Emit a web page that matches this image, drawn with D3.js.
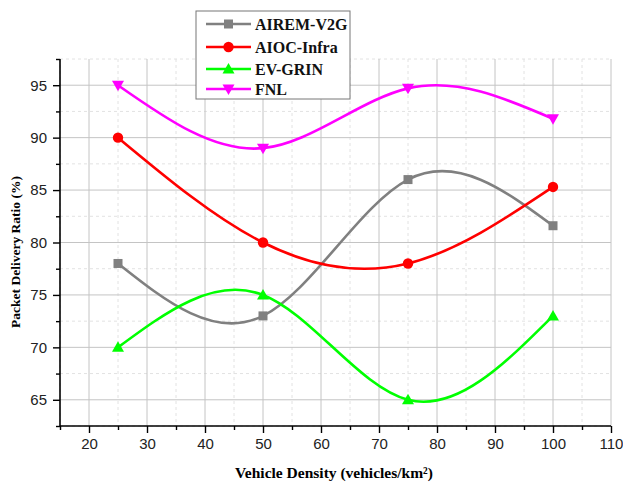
<!DOCTYPE html>
<html><head><meta charset="utf-8">
<script src="https://cdn.jsdelivr.net/npm/d3@7"></script>
<style>body{margin:0;background:#fff}</style>
</head><body>
<svg id="c" width="623" height="482"></svg>
<script>
const xValues = [25, 50, 75, 100];
const seriesNames = ["AIREM-V2G", "AIOC-Infra", "EV-GRIN", "FNL"];
const airemV2G = [78, 73, 86, 81.6];
const aiocInfra = [90, 80, 78, 85.3];
const evGrin = [70, 75, 65, 73];
const fnl = [95, 89, 94.7, 91.8];
const seriesColors = ["#808080", "#ff0000", "#00ff00", "#ff00ff"];
const seriesMarkers = ["square", "circle", "triangle", "triangleDown"];
const xTickValues = [20, 30, 40, 50, 60, 70, 80, 90, 100, 110];
const yTickValues = [65, 70, 75, 80, 85, 90, 95];

const seriesValues = [airemV2G, aiocInfra, evGrin, fnl];
const svg = d3.select("#c");
const L = 60, R = 611, T = 59, B = 426;
const x = d3.scaleLinear().domain([15, 110]).range([L, R]);
const y = d3.scaleLinear().domain([62.5, 97.5]).range([B, T]);

// grid
const xMinor = d3.range(15, 111, 5).filter(v => v % 10 !== 0);
const yMinor = d3.range(62.5, 97.6, 2.5).filter(v => v % 5 !== 0);
const g = svg.append("g");
g.selectAll(".xm").data(xMinor).join("line")
  .attr("x1", d => x(d)).attr("x2", d => x(d)).attr("y1", T).attr("y2", B)
  .attr("stroke", "#e2e2e2").attr("stroke-dasharray", "3,3");
g.selectAll(".ym").data(yMinor).join("line")
  .attr("y1", d => y(d)).attr("y2", d => y(d)).attr("x1", L).attr("x2", R)
  .attr("stroke", "#e2e2e2").attr("stroke-dasharray", "3,3");
g.selectAll(".xM").data(xTickValues).join("line")
  .attr("x1", d => x(d)).attr("x2", d => x(d)).attr("y1", T).attr("y2", B)
  .attr("stroke", "#c4c4c4");
g.selectAll(".yM").data(yTickValues).join("line")
  .attr("y1", d => y(d)).attr("y2", d => y(d)).attr("x1", L).attr("x2", R)
  .attr("stroke", "#c4c4c4");

// axes
const xAxis = svg.append("g").attr("transform", `translate(0,${B})`)
  .call(d3.axisBottom(x).tickValues(xTickValues).tickSize(7).tickPadding(5).tickFormat(d3.format("d")));
svg.append("g").attr("transform", `translate(0,${B})`)
  .call(d3.axisBottom(x).tickValues(xMinor).tickSize(4).tickFormat(""))
  .call(s => s.select(".domain").remove());
const yAxis = svg.append("g").attr("transform", `translate(${L},0)`)
  .call(d3.axisLeft(y).tickValues(yTickValues).tickSize(7).tickPadding(6).tickFormat(d3.format("d")));
svg.append("g").attr("transform", `translate(${L},0)`)
  .call(d3.axisLeft(y).tickValues(yMinor).tickSize(4).tickFormat(""))
  .call(s => s.select(".domain").remove());
svg.selectAll(".domain").attr("stroke", "#000").attr("stroke-width", 1.6);
svg.selectAll(".tick line").attr("stroke", "#000").attr("stroke-width", 1.4);
xAxis.selectAll("text").attr("font-family", "Liberation Sans, Arial").attr("font-size", 15).attr("fill", "#222");
yAxis.selectAll("text").attr("font-family", "Liberation Sans, Arial").attr("font-size", 15).attr("fill", "#222");
xAxis.select(".domain").attr("d", `M${L},0H${R}`);
yAxis.select(".domain").attr("d", `M0,${B}V${T}`);

// labels
svg.append("text").attr("x", 334).attr("y", 478).attr("text-anchor", "middle")
  .attr("font-family", "Liberation Serif, Times New Roman").attr("font-weight", "bold").attr("font-size", 15.5)
  .text("Vehicle Density (vehicles/km²)");
svg.append("text").attr("transform", "translate(20,252) rotate(-90)").attr("text-anchor", "middle")
  .attr("font-family", "Liberation Serif, Times New Roman").attr("font-weight", "bold").attr("font-size", 13.5)
  .text("Packet Delivery Ratio (%)");

function marker(sel, type, color) {
  if (type === "square") sel.append("rect").attr("x", -4.5).attr("y", -4.5).attr("width", 9).attr("height", 9).attr("fill", color);
  else if (type === "circle") sel.append("circle").attr("r", 5.2).attr("fill", color);
  else if (type === "triangle") sel.append("path").attr("d", "M0,-6L6,4.5L-6,4.5Z").attr("fill", color);
  else sel.append("path").attr("d", "M0,6L6,-4.5L-6,-4.5Z").attr("fill", color);
}

const line = d3.line().x(d => x(d[0])).y(d => y(d[1])).curve(d3.curveNatural);
seriesValues.forEach((vals, i) => {
  const pts = xValues.map((xv, j) => [xv, vals[j]]);
  svg.append("path").attr("d", line(pts)).attr("fill", "none")
    .attr("stroke", seriesColors[i]).attr("stroke-width", 2.6);
  pts.forEach(p => {
    const m = svg.append("g").attr("transform", `translate(${x(p[0])},${y(p[1])})`);
    marker(m, seriesMarkers[i], seriesColors[i]);
  });
});

// legend
const lg = svg.append("g");
lg.append("rect").attr("x", 196).attr("y", 11).attr("width", 154).attr("height", 88)
  .attr("fill", "#fff").attr("stroke", "#777").attr("stroke-width", 1);
const ly = [24, 47, 69, 89];
seriesNames.forEach((n, i) => {
  lg.append("line").attr("x1", 206).attr("x2", 251).attr("y1", ly[i]).attr("y2", ly[i])
    .attr("stroke", seriesColors[i]).attr("stroke-width", 2.6);
  const m = lg.append("g").attr("transform", `translate(228.5,${ly[i]})`);
  marker(m, seriesMarkers[i], seriesColors[i]);
  lg.append("text").attr("x", 255).attr("y", ly[i] + 5.5).attr("font-family", "Liberation Serif, Times New Roman")
    .attr("font-weight", "bold").attr("font-size", 16).attr("fill", "#111").text(n);
});
</script>
</body></html>
